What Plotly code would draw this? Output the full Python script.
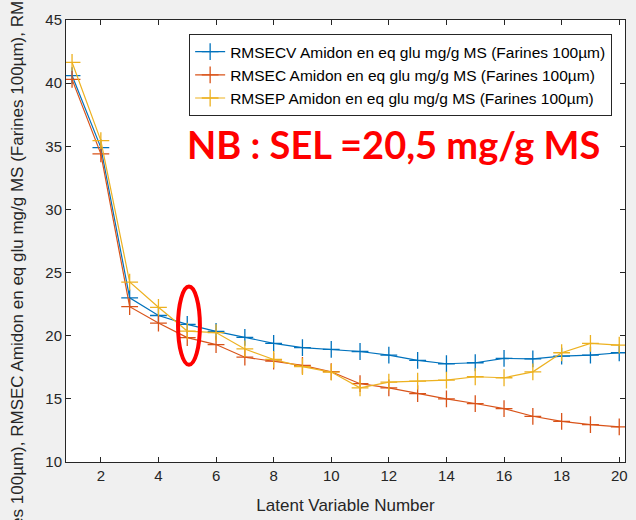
import plotly.graph_objects as go

lv = list(range(1, 21))
rmsecv = [40.6, 34.9, 23.0, 21.6, 20.9, 20.35, 19.87, 19.4, 19.05, 18.92, 18.75,
          18.46, 18.05, 17.78, 17.86, 18.2, 18.17, 18.38, 18.46, 18.65]
rmsec = [40.3, 34.4, 22.3, 21.0, 19.85, 19.3, 18.3, 17.98, 17.65, 17.15, 16.2,
         15.87, 15.42, 15.0, 14.63, 14.23, 13.62, 13.22, 12.96, 12.78]
rmsep = [41.65, 35.45, 24.25, 22.25, 20.37, 20.25, 18.95, 18.12, 17.55, 17.12, 15.87,
         16.32, 16.4, 16.48, 16.75, 16.67, 17.14, 18.65, 19.39, 19.25]

names = ["RMSECV Amidon en eq glu mg/g MS (Farines 100µm)",
         "RMSEC Amidon en eq glu mg/g MS (Farines 100µm)",
         "RMSEP Amidon en eq glu mg/g MS (Farines 100µm)"]
colors = ["#0072BD", "#D95319", "#EDB120"]
xticks = list(range(2, 21, 2))
yticks = list(range(10, 46, 5))

fig = go.Figure()
for vals, name, col in zip([rmsecv, rmsec, rmsep], names, colors):
    fig.add_trace(go.Scatter(
        x=lv, y=vals, name=name, mode="lines+markers",
        line=dict(color=col, width=1.2),
        marker=dict(symbol="cross-thin", size=12, line=dict(color=col, width=1.3)),
    ))

axis_common = dict(
    showline=True, linecolor="#262626", linewidth=1, mirror="ticks",
    ticks="inside", ticklen=5, tickcolor="#262626", tickwidth=1,
    showgrid=False, zeroline=False, automargin=False,
    tickfont=dict(family="Liberation Sans", size=15, color="#262626"),
)
fig.update_xaxes(range=[0.79, 20.2], tickvals=xticks, **axis_common,
                 title=dict(text="Latent Variable Number", standoff=16,
                            font=dict(family="Liberation Sans", size=17, color="#262626")))
fig.update_yaxes(range=[10, 45], tickvals=yticks, **axis_common)

ytitle = ", ".join(names)
fig.add_annotation(text=ytitle, xref="paper", yref="paper", x=-0.087, y=0.495,
                   xanchor="center", yanchor="middle", textangle=-90, showarrow=False,
                   font=dict(family="Liberation Sans", size=17, color="#262626"))

fig.add_annotation(text="<b>NB : SEL =20,5 mg/g MS</b>", xref="paper", yref="paper",
                   x=0.585, y=0.72, xanchor="center", yanchor="middle", showarrow=False,
                   font=dict(family="Lato", size=38, color="#FF0000"))

fig.add_shape(type="circle", xref="x", yref="y", x0=4.68, x1=5.44, y0=17.7, y1=23.9,
              line=dict(color="#FF0000", width=4))

fig.update_layout(
    width=636, height=520,
    margin=dict(l=66, r=11, t=20, b=58, autoexpand=False),
    paper_bgcolor="#F0F0F0", plot_bgcolor="#FFFFFF",
    showlegend=True,
    legend=dict(x=0.977, y=0.968, xanchor="right", yanchor="top",
                bgcolor="#FFFFFF", bordercolor="#262626", borderwidth=1,
                font=dict(family="Liberation Sans", size=15.5, color="#000000"),
                tracegroupgap=0, itemwidth=30),
)

fig.write_html("out.html", config={"displayModeBar": False},
               post_script="document.body.style.margin='0';document.body.style.background='#F0F0F0';")
